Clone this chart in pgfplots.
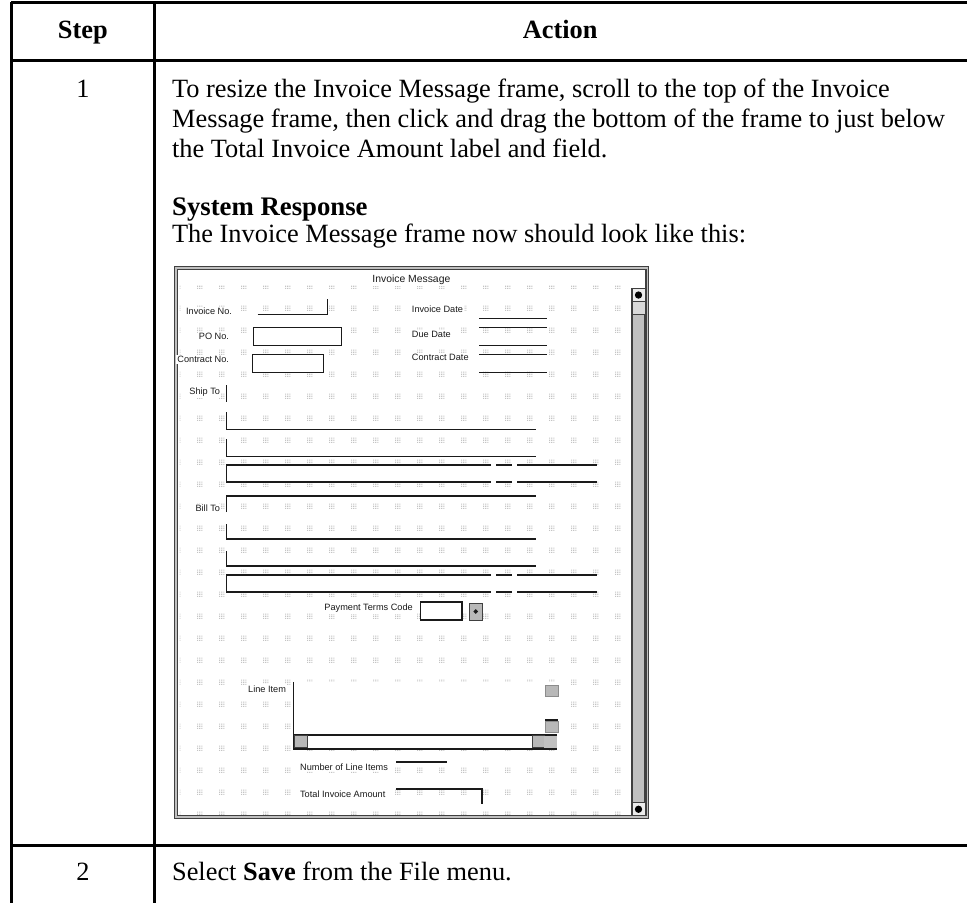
\documentclass[border=0pt]{standalone}
\usepackage{fontspec}
\setmainfont{Liberation Serif}
\newfontfamily\uifont{Liberation Sans}
\usepackage{pgfplots}
\pgfplotsset{compat=1.18}
\usetikzlibrary{patterns.meta}
\definecolor{winborder}{HTML}{404040}
\definecolor{wingray}{HTML}{C0C0C0}
\definecolor{btngray}{HTML}{B8B8B8}
\definecolor{dotgray}{HTML}{C4C4C4}
\definecolor{uitext}{HTML}{1A1A1A}

\tikzdeclarepattern{
  name=formdots,
  type=uncolored,
  bounding box={(0pt,0pt) and (11pt,11pt)},
  tile size={(11pt,11pt)},
  code={
    \pgfpathrectangle{\pgfpoint{0pt}{0pt}}{\pgfpoint{0.55pt}{0.55pt}}
    \pgfpathrectangle{\pgfpoint{1.1pt}{0pt}}{\pgfpoint{0.55pt}{0.55pt}}
    \pgfpathrectangle{\pgfpoint{2.2pt}{0pt}}{\pgfpoint{0.55pt}{0.55pt}}
    \pgfpathrectangle{\pgfpoint{0pt}{1.1pt}}{\pgfpoint{0.55pt}{0.55pt}}
    \pgfpathrectangle{\pgfpoint{1.1pt}{1.1pt}}{\pgfpoint{0.55pt}{0.55pt}}
    \pgfpathrectangle{\pgfpoint{2.2pt}{1.1pt}}{\pgfpoint{0.55pt}{0.55pt}}
    \pgfpathrectangle{\pgfpoint{0pt}{2.2pt}}{\pgfpoint{0.55pt}{0.55pt}}
    \pgfpathrectangle{\pgfpoint{1.1pt}{2.2pt}}{\pgfpoint{0.55pt}{0.55pt}}
    \pgfpathrectangle{\pgfpoint{2.2pt}{2.2pt}}{\pgfpoint{0.55pt}{0.55pt}}
    \pgfusepath{fill}
  }
}

\tikzset{
  body/.style={anchor=base west, inner sep=0pt, font=\fontsize{13.2}{15}\selectfont},
  lbl/.style={inner sep=0.6pt, fill=white, text=uitext, font=\uifont\fontsize{4.6}{5}\selectfont},
}

\begin{document}
\begin{tikzpicture}
\begin{axis}[
  scale only axis, width=484pt, height=452pt,
  xmin=0, xmax=968, ymin=0, ymax=904, y dir=reverse,
  hide axis, clip=false, no markers,
]
% page extent
\addplot[draw=none] coordinates {(0,0) (968,904)};

% ---------- table rules ----------
\addplot[black, line width=1.5pt] coordinates {(11.2,3) (968,3)};
\addplot[black, line width=1.5pt] coordinates {(11.2,61) (968,61)};
\addplot[black, line width=1.5pt] coordinates {(11.2,847) (968,847)};
\addplot[black, line width=1.5pt] coordinates {(12,2.2) (12,904)};
\addplot[black, line width=1.5pt] coordinates {(155,2.2) (155,904)};

% ---------- table text ----------
\node[anchor=base, inner sep=0pt, font=\fontsize{13.2}{15}\selectfont\bfseries] at (axis cs:83,39) {Step};
\node[anchor=base, inner sep=0pt, font=\fontsize{13.2}{15}\selectfont\bfseries] at (axis cs:561,39) {Action};
\node[anchor=base, inner sep=0pt, font=\fontsize{13.2}{15}\selectfont] at (axis cs:83,98) {1};
\node[body] at (axis cs:172,98) {To resize the Invoice Message frame, scroll to the top of the Invoice};
\node[body] at (axis cs:172,128) {Message frame, then click and drag the bottom of the frame to just below};
\node[body] at (axis cs:172,158) {the Total Invoice Amount label and field.};
\node[anchor=base west, inner sep=0pt, font=\fontsize{13.4}{15}\selectfont\bfseries] at (axis cs:172,216) {System Response};
\node[body] at (axis cs:172,243) {The Invoice Message frame now should look like this:};
\node[anchor=base, inner sep=0pt, font=\fontsize{13.2}{15}\selectfont] at (axis cs:83,882) {2};
\node[body] at (axis cs:172,882) {Select \textbf{Save} from the File menu.};

% ---------- window frame ----------
\addplot[fill=wingray, draw=winborder, line width=0.5pt] coordinates {(175,267) (649,267) (649,820) (175,820)} -- cycle;
\addplot[fill=white, draw=winborder, line width=0.6pt] coordinates {(178,270) (647,270) (647,817) (178,817)} -- cycle;
% dotted design grid
\addplot[draw=none, pattern=formdots, pattern color=dotgray] coordinates {(180,286) (631,286) (631,816) (180,816)} -- cycle;
% title
\node[inner sep=0.8pt, fill=white, text=uitext, font=\uifont\fontsize{5.2}{6}\selectfont] at (axis cs:412,280) {Invoice Message};

% vertical scrollbar
\addplot[fill=wingray, draw=winborder, line width=0.6pt] coordinates {(633,289) (646,289) (646,817) (633,817)} -- cycle;
\addplot[fill=white!92!black, draw=winborder, line width=0.5pt] coordinates {(633,289) (646,289) (646,302) (633,302)} -- cycle;
\addplot[fill=white!85!black, draw=winborder, line width=0.5pt] coordinates {(633,302) (646,302) (646,315) (633,315)} -- cycle;
\addplot[fill=white!92!black, draw=winborder, line width=0.5pt] coordinates {(633,804) (646,804) (646,817) (633,817)} -- cycle;
\addplot[only marks, mark=triangle*, mark size=1.6pt, black] coordinates {(639.5,295.5)};
\addplot[only marks, mark=triangle*, mark size=1.6pt, black, mark options={rotate=180}] coordinates {(639.5,810.5)};

% ---------- form fields ----------
\pgfplotsset{fld/.style={draw=uitext, line width=0.8pt}}
% Invoice No.
\addplot[fld] coordinates {(258,315) (328,315) (328,299)};
% Invoice Date
\addplot[fld] coordinates {(480,319) (548,319)};
% PO No.
\addplot[fld, fill=white] coordinates {(254,328) (342,328) (342,346) (254,346)} -- cycle;
% Due Date
\addplot[fld] coordinates {(480,328) (548,328)};
\addplot[fld] coordinates {(480,346) (548,346)};
% Contract No.
\addplot[fld, fill=white] coordinates {(253,355) (324,355) (324,373) (253,373)} -- cycle;
% Contract Date
\addplot[fld] coordinates {(480,355) (548,355)};
\addplot[fld] coordinates {(480,373) (548,373)};
% Ship To
\addplot[fld] coordinates {(227,386) (227,403)};
\addplot[fld] coordinates {(227,413) (227,430) (537,430)};
\addplot[fld] coordinates {(227,440) (227,457) (537,457)};
\addplot[fld] coordinates {(492,466) (227,466) (227,483) (492,483)};
\addplot[fld] coordinates {(497,466) (513,466)};
\addplot[fld] coordinates {(497,483) (513,483)};
\addplot[fld] coordinates {(518,466) (598,466)};
\addplot[fld] coordinates {(518,483) (598,483)};
% Bill To
\addplot[fld] coordinates {(227,513) (227,497) (537,497)};
\addplot[fld] coordinates {(227,525) (227,540) (537,540)};
\addplot[fld] coordinates {(227,552) (227,567) (537,567)};
\addplot[fld] coordinates {(492,576) (227,576) (227,593) (492,593)};
\addplot[fld] coordinates {(497,576) (513,576)};
\addplot[fld] coordinates {(497,593) (513,593)};
\addplot[fld] coordinates {(518,576) (598,576)};
\addplot[fld] coordinates {(518,593) (598,593)};
% Payment Terms Code
\addplot[fld, fill=white] coordinates {(421,603) (463,603) (463,621) (421,621)} -- cycle;
\addplot[fill=btngray, draw=winborder, line width=0.5pt] coordinates {(470,604) (483,604) (483,621) (470,621)} -- cycle;
\addplot[only marks, mark=square*, mark size=0.9pt, uitext] coordinates {(476.5,612.5)};
% Line Item list box
\addplot[draw=none, fill=white] coordinates {(294,683) (560,683) (560,751) (294,751)} -- cycle;
\addplot[fld] coordinates {(294,683) (294,750) (558,750)};
\addplot[fld] coordinates {(294,736) (558,736)};
\addplot[fill=btngray, draw=winborder, line width=0.4pt] coordinates {(295,737) (308,737) (308,749) (295,749)} -- cycle;
\addplot[fill=btngray, draw=winborder, line width=0.4pt] coordinates {(533,737) (545,737) (545,749) (533,749)} -- cycle;
\addplot[fill=wingray, draw=none] coordinates {(545,737) (558,737) (558,749) (545,749)} -- cycle;
\addplot[fill=btngray, draw=winborder!60, line width=0.4pt] coordinates {(546,686) (559,686) (559,697) (546,697)} -- cycle;
\addplot[fill=btngray, draw=winborder!60, line width=0.4pt] coordinates {(546,723) (559,723) (559,734) (546,734)} -- cycle;
\addplot[fld] coordinates {(546,721) (559,721)};
% Number of Line Items
\addplot[fld] coordinates {(397,763) (448,763)};
% Total Invoice Amount
\addplot[fld] coordinates {(397,790) (483,790) (483,805)};

% ---------- labels ----------
\node[lbl, anchor=east] at (axis cs:234,312) {Invoice No.};
\node[lbl, anchor=west] at (axis cs:411,310) {Invoice Date};
\node[lbl, anchor=east] at (axis cs:231,337) {PO No.};
\node[lbl, anchor=west] at (axis cs:411,335) {Due Date};
\node[lbl, anchor=east] at (axis cs:231,360) {Contract No.};
\node[lbl, anchor=west] at (axis cs:411,358) {Contract Date};
\node[lbl, anchor=east] at (axis cs:222,393) {Ship To};
\node[lbl, anchor=east] at (axis cs:222,509) {Bill To};
\node[lbl, anchor=east] at (axis cs:415,609) {Payment Terms Code};
\node[lbl, anchor=east] at (axis cs:288,690) {Line Item};
\node[lbl, anchor=west] at (axis cs:299,768) {Number of Line Items};
\node[lbl, anchor=west] at (axis cs:299,795) {Total Invoice Amount};
\end{axis}
\end{tikzpicture}
\end{document}
